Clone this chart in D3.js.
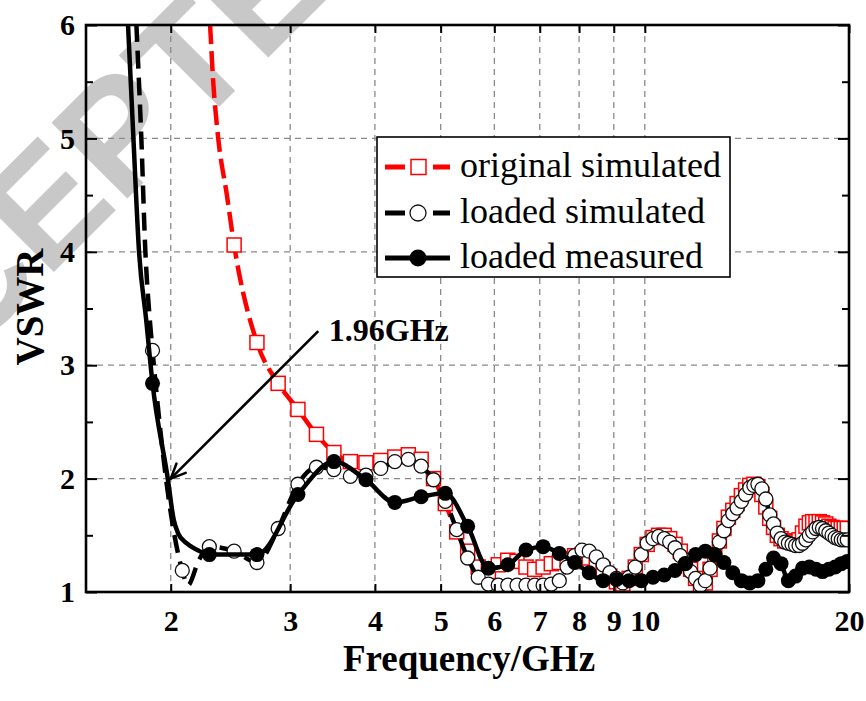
<!DOCTYPE html>
<html><head><meta charset="utf-8">
<script src="https://cdn.jsdelivr.net/npm/d3@7"></script>
<style>html,body{margin:0;padding:0;background:#fff;} svg{display:block;}</style>
</head><body>
<svg id="chart" width="866" height="701"></svg>
<script>
// ---------------- DATA ----------------
const simFreq = [1.48,1.68,1.88,2.08,2.28,2.48,2.68,2.88,3.08,3.28,3.48,3.68,3.88,4.08,4.28,4.48,4.68,4.88,5.08,5.28,5.48,5.68,5.88,6.08,6.28,6.48,6.68,6.88,7.08,7.28,7.48,7.68,7.88,8.08,8.28,8.48,8.68,8.88,9.08,9.28,9.48,9.68,9.88,10.08,10.28,10.48,10.68,10.88,11.08,11.28,11.48,11.68,11.88,12.08,12.28,12.48,12.68,12.88,13.08,13.28,13.48,13.68,13.88,14.08,14.28,14.48,14.68,14.88,15.08,15.28,15.48,15.68,15.88,16.08,16.28,16.48,16.68,16.88,17.08,17.28,17.48,17.68,17.88,18.08,18.28,18.48,18.68,18.88,19.08,19.28,19.48,19.68,19.88];
const origSim = [20,14,10,7.6,6.1,4.06,3.20,2.84,2.61,2.39,2.23,2.15,2.14,2.16,2.19,2.21,2.17,2.00,1.78,1.53,1.36,1.22,1.18,1.24,1.28,1.27,1.22,1.20,1.22,1.25,1.26,1.29,1.32,1.33,1.30,1.26,1.20,1.14,1.09,1.07,1.12,1.22,1.33,1.42,1.48,1.50,1.50,1.47,1.42,1.36,1.28,1.20,1.12,1.05,1.08,1.20,1.32,1.45,1.56,1.66,1.72,1.78,1.85,1.90,1.94,1.95,1.93,1.86,1.75,1.65,1.57,1.50,1.47,1.45,1.45,1.44,1.44,1.46,1.52,1.58,1.61,1.62,1.62,1.62,1.61,1.60,1.58,1.57,1.56,1.56,1.56,1.56,1.56];
const loadedSim = [16,9.5,3.13,1.19,1.40,1.36,1.26,1.56,1.95,2.10,2.08,2.02,2.03,2.09,2.15,2.17,2.11,1.99,1.80,1.55,1.30,1.13,1.07,1.06,1.06,1.06,1.06,1.06,1.06,1.07,1.10,1.22,1.32,1.37,1.36,1.31,1.24,1.17,1.12,1.08,1.13,1.22,1.33,1.43,1.47,1.49,1.47,1.44,1.39,1.32,1.25,1.18,1.12,1.06,1.10,1.21,1.33,1.44,1.54,1.63,1.69,1.74,1.80,1.86,1.92,1.94,1.95,1.91,1.82,1.68,1.60,1.52,1.47,1.44,1.43,1.42,1.41,1.41,1.43,1.46,1.50,1.53,1.56,1.57,1.56,1.54,1.52,1.50,1.48,1.47,1.46,1.46,1.46];
const measFreq = [1.48,1.88,2.28,2.68,3.08,3.48,3.88,4.28,4.68,5.08,5.48,5.88,6.28,6.68,7.08,7.48,7.88,8.28,8.68,9.08,9.48,9.88,10.28,10.68,11.08,11.48,11.88,12.28,12.68,13.08,13.48,13.88,14.28,14.68,15.08,15.48,15.88,16.28,16.68,17.08,17.48,17.88,18.28,18.68,19.08,19.48,19.88];
const loadedMeas = [10,2.84,1.33,1.33,1.86,2.15,1.99,1.79,1.84,1.87,1.58,1.21,1.24,1.37,1.40,1.34,1.26,1.17,1.10,1.11,1.10,1.10,1.13,1.15,1.19,1.25,1.33,1.36,1.33,1.26,1.17,1.10,1.08,1.10,1.20,1.30,1.25,1.10,1.14,1.21,1.22,1.20,1.18,1.20,1.22,1.25,1.27];
// extra trace points (line only, no marker) where the curves bend between markers
const origSimExtra = [[2.31,5.5],[2.35,5.0],[2.42,4.5]];
const loadedSimExtra = [[1.78,6.0],[1.81,5.0],[1.835,4.0],[1.86,3.45],[2.12,1.06],[2.2,1.28]];
const loadedMeasExtra = [[1.73,6.0],[1.762,5.0],[1.796,4.0],[1.84,3.4],[1.98,2.0],[2.02,1.64],[2.05,1.52],[2.11,1.43],[2.19,1.37]];

const xTicks = [2,3,4,5,6,7,8,9,10,20];
const yTicks = [1,2,3,4,5,6];
const yMinor = [1.5,2.5,3.5,4.5,5.5];
const legendLabels = ["original simulated","loaded simulated","loaded measured"];
const annText = "1.96GHz";
const annTip = [2.0, 2.0], annTail = [3.3, 3.3], annLabel = [3.42, 3.21];
const xTitle = "Frequency/GHz", yTitle = "VSWR";
const watermark = "ACCEPTED";

// ---------------- LAYOUT ----------------
const L = 86, R = 849, T = 25, B = 592;
const SERIF = "'Liberation Serif','Times New Roman',serif";
const x = d3.scaleLog().domain([1.5, 20]).range([L, R]);
const y = d3.scaleLinear().domain([1, 6]).range([B, T]);
const svg = d3.select('#chart');

// watermark
svg.append('text')
  .attr('transform', 'translate(-192.6,518.6) rotate(-45)')
  .attr('font-family', "'Liberation Sans',Arial,sans-serif")
  .attr('font-weight', 'bold').attr('font-size', 156)
  .attr('fill', '#c8c8c8').text(watermark);

// grid
const grid = svg.append('g').attr('stroke', '#8a8a8a').attr('stroke-width', 1.3).attr('stroke-dasharray', '6,5');
xTicks.filter(t => t < 20).forEach(t => grid.append('line').attr('x1', x(t)).attr('x2', x(t)).attr('y1', T).attr('y2', B));
yTicks.filter(t => t > 1 && t < 6).forEach(t => grid.append('line').attr('y1', y(t)).attr('y2', y(t)).attr('x1', L).attr('x2', R));

// clip
svg.append('clipPath').attr('id', 'clip').append('rect').attr('x', L).attr('y', T).attr('width', R - L).attr('height', B - T);
const plot = svg.append('g').attr('clip-path', 'url(#clip)');

function pts(fr, vals) { const n = Math.min(fr.length, vals.length); const o = []; for (let i = 0; i < n; i++) o.push({ f: fr[i], v: vals[i] }); return o; }
function tracePts(fr, vals, extra) { return pts(fr, vals).concat(extra.map(([f, v]) => ({ f, v }))).sort((a, b) => a.f - b.f); }
const lineGen = d3.line().x(d => x(d.f)).y(d => y(d.v)).curve(d3.curveMonotoneX);

// original simulated
plot.append('path').datum(tracePts(simFreq, origSim, origSimExtra)).attr('d', lineGen)
  .attr('fill', 'none').attr('stroke', '#ff0000').attr('stroke-width', 4.5).attr('stroke-dasharray', '20,7');
plot.append('g').selectAll('rect').data(pts(simFreq, origSim)).join('rect')
  .attr('x', d => x(d.f) - 7).attr('y', d => y(d.v) - 7).attr('width', 14).attr('height', 14)
  .attr('fill', '#fff').attr('stroke', '#ff0000').attr('stroke-width', 1.5);

// loaded simulated
plot.append('path').datum(tracePts(simFreq, loadedSim, loadedSimExtra)).attr('d', lineGen)
  .attr('fill', 'none').attr('stroke', '#000').attr('stroke-width', 4.5).attr('stroke-dasharray', '18,9');
plot.append('g').selectAll('circle').data(pts(simFreq, loadedSim)).join('circle')
  .attr('cx', d => x(d.f)).attr('cy', d => y(d.v)).attr('r', 7)
  .attr('fill', '#fff').attr('stroke', '#111').attr('stroke-width', 1.3);

// loaded measured
plot.append('path').datum(tracePts(measFreq, loadedMeas, loadedMeasExtra)).attr('d', lineGen)
  .attr('fill', 'none').attr('stroke', '#000').attr('stroke-width', 4.5);
plot.append('g').selectAll('circle').data(pts(measFreq, loadedMeas)).join('circle')
  .attr('cx', d => x(d.f)).attr('cy', d => y(d.v)).attr('r', 7.5).attr('fill', '#000');

// axes
function styleAxis(g) { g.select('.domain').remove(); g.selectAll('.tick line').attr('stroke', '#000').attr('stroke-width', 2); g.selectAll('text').attr('font-family', SERIF).attr('font-weight', 'bold').attr('font-size', 30).attr('fill', '#000'); }
svg.append('g').attr('transform', `translate(0,${B})`)
  .call(d3.axisBottom(x).tickValues(xTicks).tickFormat(d3.format('d')).tickSizeInner(-8).tickSizeOuter(0).tickPadding(18)).call(styleAxis);
svg.append('g').attr('transform', `translate(0,${T})`)
  .call(d3.axisTop(x).tickValues(xTicks).tickFormat('').tickSizeInner(-8).tickSizeOuter(0)).call(styleAxis);
svg.append('g').attr('transform', `translate(${L},0)`)
  .call(d3.axisLeft(y).tickValues(yTicks).tickFormat(d3.format('d')).tickSizeInner(-11).tickSizeOuter(0).tickPadding(11)).call(styleAxis);
svg.append('g').attr('transform', `translate(${L},0)`)
  .call(d3.axisLeft(y).tickValues(yMinor).tickFormat('').tickSizeInner(-7).tickSizeOuter(0)).call(styleAxis);
svg.append('g').attr('transform', `translate(${R},0)`)
  .call(d3.axisRight(y).tickValues(yTicks).tickFormat('').tickSizeInner(-11).tickSizeOuter(0)).call(styleAxis);
svg.append('g').attr('transform', `translate(${R},0)`)
  .call(d3.axisRight(y).tickValues(yMinor).tickFormat('').tickSizeInner(-7).tickSizeOuter(0)).call(styleAxis);
svg.append('rect').attr('x', L).attr('y', T).attr('width', R - L).attr('height', B - T)
  .attr('fill', 'none').attr('stroke', '#000').attr('stroke-width', 2.6);

// axis titles
svg.append('text').attr('x', 469).attr('y', 671).attr('text-anchor', 'middle')
  .attr('font-family', SERIF).attr('font-weight', 'bold').attr('font-size', 37).text(xTitle);
svg.append('text').attr('transform', 'translate(43,307) rotate(-90)').attr('text-anchor', 'middle')
  .attr('font-family', SERIF).attr('font-weight', 'bold').attr('font-size', 39).text(yTitle);

// legend
const lg = svg.append('g');
lg.append('rect').attr('x', 377).attr('y', 137).attr('width', 353).attr('height', 140)
  .attr('fill', '#fff').attr('stroke', '#000').attr('stroke-width', 1.6);
const rows = [167, 213, 258];
const legStyle = [
  { stroke: '#ff0000', dashed: true, mk: 'sq' },
  { stroke: '#000', dashed: true, mk: 'open' },
  { stroke: '#000', dashed: false, mk: 'fill' }];
legendLabels.forEach((lab, i) => {
  const cy = rows[i], s = legStyle[i];
  if (s.dashed) {
    lg.append('line').attr('x1', 385).attr('x2', 405).attr('y1', cy).attr('y2', cy).attr('stroke', s.stroke).attr('stroke-width', 5);
    lg.append('line').attr('x1', 433).attr('x2', 450).attr('y1', cy).attr('y2', cy).attr('stroke', s.stroke).attr('stroke-width', 5);
  } else {
    lg.append('line').attr('x1', 385).attr('x2', 450).attr('y1', cy).attr('y2', cy).attr('stroke', s.stroke).attr('stroke-width', 5);
  }
  if (s.mk === 'sq') lg.append('rect').attr('x', 411).attr('y', cy - 7.5).attr('width', 15).attr('height', 15).attr('fill', '#fff').attr('stroke', '#ff0000').attr('stroke-width', 1.5);
  else if (s.mk === 'open') lg.append('circle').attr('cx', 418).attr('cy', cy).attr('r', 8).attr('fill', '#fff').attr('stroke', '#111').attr('stroke-width', 1.3);
  else lg.append('circle').attr('cx', 418).attr('cy', cy).attr('r', 8.5).attr('fill', '#000');
  lg.append('text').attr('x', 460).attr('y', cy + 10).attr('font-family', SERIF).attr('font-size', 36).text(lab);
});

// annotation arrow
const tx = x(annTip[0]), ty = y(annTip[1]), sx = x(annTail[0]), sy = y(annTail[1]);
svg.append('line').attr('x1', sx).attr('y1', sy).attr('x2', tx).attr('y2', ty).attr('stroke', '#000').attr('stroke-width', 2.6);
const ang = Math.atan2(sy - ty, sx - tx), hl = 16, ha = 0.42;
[ang + ha, ang - ha].forEach(a => svg.append('line').attr('x1', tx).attr('y1', ty)
  .attr('x2', tx + hl * Math.cos(a)).attr('y2', ty + hl * Math.sin(a)).attr('stroke', '#000').attr('stroke-width', 2.6).attr('stroke-linecap', 'round'));
svg.append('text').attr('x', x(annLabel[0])).attr('y', y(annLabel[1])).attr('font-family', SERIF)
  .attr('font-weight', 'bold').attr('font-size', 32).text(annText);
</script>
</body></html>
